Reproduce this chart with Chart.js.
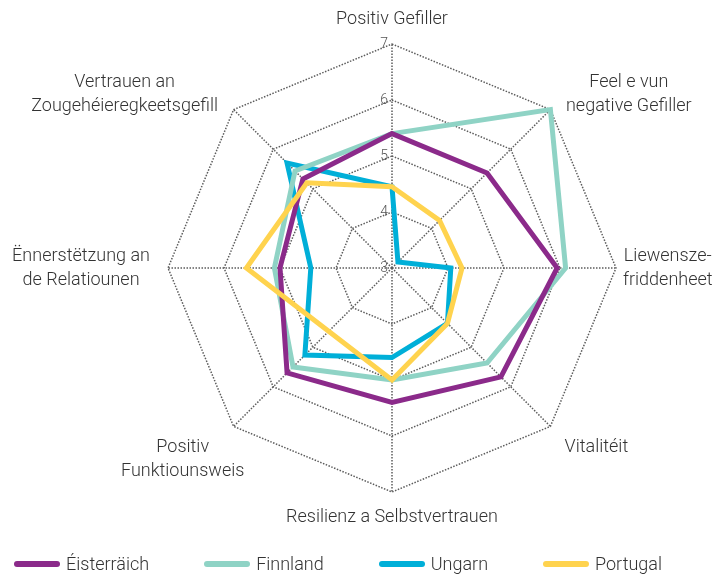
<!DOCTYPE html>
<html>
<head>
<meta charset="utf-8">
<script src="https://cdn.jsdelivr.net/npm/chart.js@4"></script>
<style>
  body { margin: 0; background: #fff; }
  #wrap { position: relative; width: 715px; height: 574px; }
  #legend { position: absolute; left: 14px; top: 553px; display: flex; gap: 55px;
            font: 300 18px Roboto, "Liberation Sans", sans-serif; color: #333; line-height: 22px; }
  .item { display: flex; align-items: center; }
  .mark { width: 46px; height: 6px; border-radius: 3px; margin-right: 6px; }
</style>
</head>
<body>
<div id="wrap">
  <canvas id="chart" width="715" height="574"></canvas>
  <div id="legend"></div>
</div>
<script>
// axes of the radar, each label split in its lines
const categories = [
    ["Positiv Gefiller"],
    ["Feel e vun", "negative Gefiller"],
    ["Liewensze-", "friddenheet"],
    ["Vitalitéit"],
    ["Resilienz a Selbstvertrauen"],
    ["Positiv", "Funktiounsweis"],
    ["Ënnerstëtzung an", "de Relatiounen"],
    ["Vertrauen an", "Zougehéieregkeetsgefill"]
];

const austria  = [5.4, 5.4, 5.95, 5.75, 5.4, 5.65, 5.0, 5.25];
const finland  = [5.4, 7.0, 6.1, 5.4, 5.0, 5.5, 5.1, 5.45];
const hungary  = [4.45, 3.15, 4.05, 4.4, 4.6, 5.2, 4.45, 5.65];
const portugal = [4.45, 4.2, 4.25, 4.4, 5.0, 4.6, 5.6, 5.15];

const seriesNames = ["Éisterräich", "Finnland", "Ungarn", "Portugal"];
const tickValues = [3, 4, 5, 6, 7];

const seriesData = [austria, finland, hungary, portugal];
const seriesColors = ["#8b2a8a", "#8fd3c5", "#00afd8", "#ffd34e"];
const drawOrder = [1, 2, 3, 0];

const gridColor = "#5c5c5c";

// tick numbers and axis names drawn from the radial scale
const radarText = {
    id: "radarText",
    beforeDatasetsDraw: function(chart){
        const s = chart.scales.r;
        const ctx = chart.ctx;
        ctx.save();
        ctx.font = "300 14px Roboto, 'Liberation Sans', sans-serif";
        ctx.fillStyle = "#555";
        ctx.textAlign = "right";
        ctx.textBaseline = "middle";
        s.ticks.forEach(function(t){
            ctx.fillText(t.value, s.xCenter - 4, s.yCenter - s.getDistanceFromCenterForValue(t.value));
        });

        ctx.font = "300 18px Roboto, 'Liberation Sans', sans-serif";
        ctx.fillStyle = "#333";
        ctx.textAlign = "center";
        const lh = 24;
        categories.forEach(function(lines, i){
            let p = s.getPointPosition(i, s.drawingArea + 13);
            let dx = p.x - s.xCenter;
            let dy = p.y - s.yCenter;
            let pad = 13;
            let shift = 0;
            if(Math.abs(dy) < 1){ pad = dx > 0 ? 7 : 18; }
            else if(dy < -1 && Math.abs(dx) > 1){ pad = 22; }
            else if(dy > 1 && Math.abs(dx) > 1){ shift = dx > 0 ? 5 : 20; }
            p = s.getPointPosition(i, s.drawingArea + pad);
            const w = Math.max.apply(null, lines.map(function(l){ return ctx.measureText(l).width; }));
            const h = lines.length * lh;
            let cx = p.x + shift;
            if(dx > 1){ cx += w / 2; }
            else if(dx < -1){ cx -= w / 2; }
            let top;
            if(dy < -1 && Math.abs(dx) < 1){ top = p.y - h; }
            else if(dy > 1){ top = p.y; }
            else{ top = p.y - h / 2; }
            lines.forEach(function(l, j){
                ctx.fillText(l, cx, top + lh * j + lh / 2);
            });
        });
        ctx.restore();
    }
};

const data = {
    labels: categories,
    datasets: seriesNames.map(function(name, i){
        return {
            label: name,
            data: seriesData[i],
            borderColor: seriesColors[i],
            backgroundColor: "transparent",
            borderWidth: 5,
            pointRadius: 0,
            pointHoverRadius: 0,
            fill: false,
            order: drawOrder[i]
        };
    })
};

const config = {
    type: "radar",
    data: data,
    options: {
        responsive: false,
        animation: false,
        devicePixelRatio: 1,
        layout: { padding: { top: 44, bottom: 82, left: 168, right: 99 } },
        plugins: { legend: { display: false }, tooltip: { enabled: false } },
        scales: {
            r: {
                min: tickValues[0],
                max: tickValues[tickValues.length - 1],
                ticks: { stepSize: 1, display: false },
                pointLabels: { display: false },
                grid: { color: gridColor, lineWidth: 1.5 },
                border: { dash: [1.5, 1.5] },
                angleLines: { color: gridColor, lineWidth: 1.5, borderDash: [1.5, 1.5] }
            }
        }
    },
    plugins: [radarText]
};

new Chart(document.getElementById("chart"), config);

const legend = document.getElementById("legend");
seriesNames.forEach(function(name, i){
    const item = document.createElement("div");
    item.className = "item";
    const mark = document.createElement("span");
    mark.className = "mark";
    mark.style.background = seriesColors[i];
    const text = document.createElement("span");
    text.innerText = name;
    item.appendChild(mark);
    item.appendChild(text);
    legend.appendChild(item);
});
</script>
</body>
</html>
